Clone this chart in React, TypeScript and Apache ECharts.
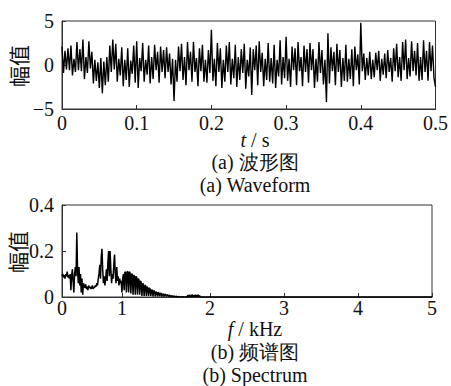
import React, { useEffect, useRef } from 'react';
import * as echarts from 'echarts';

// ---- Waveform (a): sampled every 2 ms, 0 .. 0.5 s ----
const waveStep = 0.002;
const waveValues = [
  2.1, -0.9, 1.6, -0.5, 1.9, -0.6, 2.2, -1.2, 0.7, -0.8,
  2.6, -0.6, 1.8, -0.7, 2.9, -1.6, 0.9, -0.9, 2.7, -0.4,
  1.5, -2.1, 0.6, -1.8, 0.3, -2.6, 0.8, -3.2, 0.4, -2.3,
  0.9, -1.9, 2.2, -0.8, 2.9, -0.5, 2.4, -1.9, 0.7, -1.2,
  2.0, -2.4, 0.6, -1.7, 1.9, -2.5, 0.5, -1.0, 2.2, -2.0,
  2.7, -2.6, 0.8, -0.7, 2.5, -1.9, 0.6, -1.1, 2.2, -2.1,
  0.9, -1.6, 2.3, -0.6, 1.5, -2.0, 2.1, -0.8, 1.7, -1.5,
  2.0, -0.8, 1.3, -2.2, 0.7, -4.1, 0.6, -1.9, 2.1, -0.7,
  2.4, -1.7, 0.9, -2.3, 2.6, -0.6, 1.5, -1.9, 2.6, -0.8,
  0.8, -2.4, 1.9, -0.7, 2.3, -1.9, 0.6, -2.0, 1.7, -0.9,
  4.0, -1.8, 0.7, -2.4, 2.5, -0.8, 1.9, -2.6, 0.6, -1.9,
  2.2, -0.8, 2.6, -2.2, 0.7, -1.5, 2.3, -2.5, 0.9, -1.7,
  1.8, -0.9, 2.4, -2.7, 0.6, -1.3, 2.0, -3.4, 1.8, -0.6,
  2.2, -2.3, 2.7, -0.8, 1.4, -2.4, 0.7, -1.7, 2.5, -1.9,
  0.8, -2.1, 2.3, -2.6, 0.6, -1.3, 2.8, -2.2, 0.9, -1.5,
  3.2, -1.8, 0.7, -2.5, 2.1, -0.6, 1.9, -2.3, 2.6, -0.7,
  0.9, -2.4, 2.2, -0.8, 1.8, -2.0, 2.5, -0.6, 1.8, -2.6,
  0.7, -1.9, 2.6, -0.9, 1.7, -2.2, 0.6, -4.2, 3.6, -2.1,
  2.0, -0.7, 1.5, -2.3, 2.4, -0.8, 1.7, -2.5, 0.8, -1.8,
  2.3, -1.9, 0.7, -1.6, 1.8, -2.4, 2.1, -0.6, 1.2, -2.2,
  4.8, -0.7, 1.3, -1.7, 0.8, -1.2, 1.5, -1.6, 0.6, -1.4,
  1.4, -0.6, 1.6, -1.8, 0.7, -1.1, 1.3, -1.5, 1.7, -0.8,
  0.8, -1.9, 1.9, -0.7, 2.4, -1.4, 0.9, -1.8, 2.6, -0.6,
  2.9, -1.6, 0.8, -1.3, 2.7, -0.7, 1.6, -1.2, 2.5, -1.8,
  0.9, -1.7, 2.8, -0.8, 1.6, -1.8, 2.6, -0.7, 2.2, -1.5,
  -2.5,
];
const waveXMin = 0;
const waveXMax = 0.5;
const waveXInterval = 0.1;
const waveYMin = -5;
const waveYMax = 5;
const waveYInterval = 5;

// ---- Spectrum (b): sampled every 0.01 kHz from 0 to 1.99 kHz, then zero ----
const specStep = 0.01;
const specValues = [
  0.09, 0.1, 0.085, 0.095, 0.08, 0.1, 0.09, 0.11, 0.085, 0.095,
  0.08, 0.1, 0.03, 0.09, 0.12, 0.07, 0.02, 0.1, 0.13, 0.09,
  0.28, 0.12, 0.06, 0.13, 0.05, 0.1, 0.02, 0.08, 0.01, 0.06,
  0.05, 0.04, 0.055, 0.035, 0.045, 0.03, 0.05, 0.04, 0.045, 0.035,
  0.04, 0.05, 0.035, 0.045, 0.04, 0.05, 0.045, 0.06, 0.05, 0.08,
  0.1, 0.14, 0.08, 0.17, 0.21, 0.12, 0.06, 0.09, 0.05, 0.08,
  0.12, 0.07, 0.15, 0.2, 0.09, 0.2, 0.12, 0.06, 0.1, 0.08,
  0.14, 0.185, 0.1, 0.06, 0.13, 0.07, 0.09, 0.05, 0.08, 0.06,
  0.07, 0.02, 0.08, 0.1, 0.03, 0.11, 0.105, 0.02, 0.11, 0.11,
  0.02, 0.11, 0.105, 0.015, 0.1, 0.1, 0.01, 0.095, 0.09, 0.01,
  0.09, 0.085, 0.01, 0.08, 0.075, 0.01, 0.07, 0.065, 0.005, 0.06,
  0.055, 0.005, 0.05, 0.05, 0.005, 0.045, 0.04, 0.005, 0.04, 0.035,
  0.005, 0.03, 0.03, 0.003, 0.028, 0.025, 0.003, 0.022, 0.02, 0.003,
  0.02, 0.018, 0.003, 0.016, 0.015, 0.002, 0.014, 0.012, 0.002, 0.012,
  0.01, 0.002, 0.01, 0.008, 0.002, 0.008, 0.006, 0.001, 0.006, 0.005,
  0.001, 0.004, 0.003, 0.001, 0.003, 0.002, 0, 0.002, 0.001, 0,
  0, 0.001, 0, 0, 0.001, 0, 0, 0, 0.002, 0,
  0.008, 0, 0.01, 0, 0.009, 0, 0.011, 0, 0.008, 0,
  0.01, 0, 0.009, 0, 0.01, 0, 0.006, 0, 0, 0,
  0, 0, 0, 0, 0, 0, 0, 0, 0, 0,
];
const specTailFreq = [2.0, 5.0];
const specTailValues = [0, 0];
const specXMin = 0;
const specXMax = 5;
const specXTickValues = [0, 0.81, 2, 3, 4, 5];
const specXTickLabels = ['0', '1', '2', '3', '4', '5'];
const specYMin = 0;
const specYMax = 0.4;
const specYInterval = 0.2;

const yName = '幅值';
const waveXName = 't / s';
const specXName = 'f / kHz';
const waveCaptionCn = '(a) 波形图';
const waveCaptionEn = '(a) Waveform';
const specCaptionCn = '(b) 频谱图';
const specCaptionEn = '(b) Spectrum';

const SERIF = 'serif';
const CJK_FONT = 'Noto Sans CJK SC';
const INK = '#111';

export default function App() {
  const ref = useRef<HTMLDivElement>(null);

  useEffect(() => {
    if (!ref.current) return;
    const chart = echarts.init(ref.current, undefined, { renderer: 'svg' });

    const waveData = waveValues.map((v, i) => [+(i * waveStep).toFixed(4), v]);
    const specData = specValues.map((v, i) => [+(i * specStep).toFixed(3), v]);
    specTailFreq.forEach((f, i) => specData.push([f, specTailValues[i]]));

    const axisLine = { show: true, onZero: false, lineStyle: { color: '#333', width: 1 } };
    const tick = { show: true, inside: true, length: 4, lineStyle: { color: '#333', width: 1 } };
    const label = { color: INK, fontFamily: SERIF, fontSize: 20 };
    const fmtNum = (v: number) => (v < 0 ? '\u2212' + Math.abs(v) : String(+v.toFixed(2)));

    const txt = (x: number, y: number, text: string, rich?: any) => ({
      type: 'text', x, y,
      style: {
        text, fontFamily: SERIF, fontSize: 20, fill: INK,
        align: 'center', verticalAlign: 'middle',
        ...(rich ? { rich } : {}),
      },
    });
    const italic = { i: { fontStyle: 'italic', fontFamily: SERIF, fontSize: 20, fill: INK } };

    const option: any = {
      animation: false,
      backgroundColor: '#fff',
      textStyle: { fontFamily: SERIF, fontSize: 20, color: INK },
      grid: [
        { left: 62, top: 21, width: 375, height: 88, show: true, borderColor: '#333', borderWidth: 1, backgroundColor: 'transparent' },
        { left: 62, top: 205, width: 370, height: 92, show: true, borderColor: '#333', borderWidth: 1, backgroundColor: 'transparent' },
      ],
      xAxis: [
        {
          type: 'value', gridIndex: 0, min: waveXMin, max: waveXMax, interval: waveXInterval,
          axisLine, axisTick: tick, splitLine: { show: false },
          axisLabel: { ...label, margin: 4, formatter: (v: number) => fmtNum(v) },
        },
        {
          type: 'value', gridIndex: 1, min: specXMin, max: specXMax,
          axisLine, splitLine: { show: false },
          axisTick: { ...tick, customValues: specXTickValues },
          axisLabel: {
            ...label, margin: 1, customValues: specXTickValues,
            formatter: (v: number) => {
              const k = specXTickValues.indexOf(v);
              return k >= 0 ? specXTickLabels[k] : '';
            },
          },
        },
      ],
      yAxis: [
        {
          type: 'value', gridIndex: 0, min: waveYMin, max: waveYMax, interval: waveYInterval,
          axisLine, axisTick: tick, splitLine: { show: false },
          axisLabel: { ...label, margin: 8, formatter: (v: number) => fmtNum(v) },
        },
        {
          type: 'value', gridIndex: 1, min: specYMin, max: specYMax, interval: specYInterval,
          axisLine, axisTick: tick, splitLine: { show: false },
          axisLabel: { ...label, margin: 8, formatter: (v: number) => fmtNum(v) },
        },
      ],
      series: [
        {
          type: 'line', xAxisIndex: 0, yAxisIndex: 0, data: waveData,
          showSymbol: false, symbol: 'none', lineStyle: { color: '#000', width: 1.4 }, z: 3,
        },
        {
          type: 'line', xAxisIndex: 1, yAxisIndex: 1, data: specData,
          showSymbol: false, symbol: 'none', lineStyle: { color: '#000', width: 1.5 }, z: 3,
        },
      ],
      graphic: [
        { type: 'text', x: 18, y: 66, rotation: Math.PI / 2, style: { text: yName, fontFamily: CJK_FONT, fontSize: 21, fill: INK, align: 'center', verticalAlign: 'middle' } },
        { type: 'text', x: 17, y: 252, rotation: Math.PI / 2, style: { text: yName, fontFamily: CJK_FONT, fontSize: 21, fill: INK, align: 'center', verticalAlign: 'middle' } },
        txt(255, 140, `{i|${waveXName.slice(0, 1)}}${waveXName.slice(1)}`, italic),
        txt(255, 162, waveCaptionCn),
        txt(255, 185, waveCaptionEn),
        txt(255, 329, `{i|${specXName.slice(0, 1)}}${specXName.slice(1)}`, italic),
        txt(255, 352, specCaptionCn),
        txt(255, 375, specCaptionEn),
      ],
    };

    chart.setOption(option);
    return () => chart.dispose();
  }, []);

  return (
    <div
      ref={ref}
      style={{ position: 'fixed', left: 0, top: 0, width: 451, height: 386, background: '#fff' }}
    />
  );
}
